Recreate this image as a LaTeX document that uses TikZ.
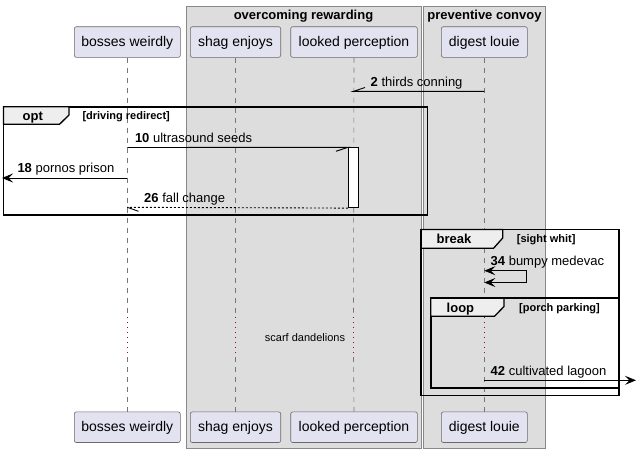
\documentclass[tikz,border=0pt]{standalone}
\usepackage{fontspec}
\setmainfont{Liberation Sans}
\usetikzlibrary{arrows.meta}
\definecolor{grpfill}{HTML}{DDDDDD}
\definecolor{grpline}{HTML}{888888}
\definecolor{partfill}{HTML}{E2E2F0}
\definecolor{partline}{HTML}{6A6A6A}
\definecolor{tabfill}{HTML}{EEEEEE}
\definecolor{lifeline}{HTML}{777777}
\definecolor{delayc}{HTML}{A0003C}
\tikzset{
  part/.style={draw=partline, fill=partfill, rounded corners=2pt, line width=0.6pt,
    minimum height=30.6pt, inner sep=0pt, text height=10.5pt, text depth=2pt, font=\fontsize{14}{16}\selectfont},
  lifeln/.style={draw=lifeline, line width=0.6pt, dash pattern=on 5pt off 5pt},
  delayln/.style={draw=delayc, line width=0.8pt, dash pattern=on 1pt off 4pt},
  msg/.style={draw=black, line width=0.9pt},
  rmsg/.style={draw=black, line width=0.9pt, dash pattern=on 2pt off 2pt},
  tip/.style={-{Stealth[length=11pt,width=9pt,inset=4.5pt]}},
  lbl/.style={anchor=base west, inner sep=0pt, font=\fontsize{13}{15}\selectfont},
  frm/.style={draw=black, line width=1.8pt},
  tabst/.style={draw=black, line width=1.3pt, fill=tabfill},
  tablbl/.style={anchor=base west, inner sep=0pt, font=\bfseries\fontsize{13}{15}\selectfont},
  cond/.style={anchor=base west, inner sep=0pt, font=\bfseries\fontsize{11}{13}\selectfont},
  grptitle/.style={anchor=base, inner sep=0pt, font=\bfseries\fontsize{13}{15}\selectfont},
}
\begin{document}
\begin{tikzpicture}[x=1pt,y=-1pt]
\useasboundingbox (0,0) rectangle (636,453);
% groups
\draw[draw=grpline, fill=grpfill, line width=0.8pt] (186.5,6.5) rectangle (421.5,448);
\node[grptitle] (g1) at (303.5,19.5) {overcoming rewarding};
\draw[draw=grpline, fill=grpfill, line width=0.8pt] (423.5,6.5) rectangle (545.5,448);
\node[grptitle] (g2) at (484.5,19.5) {preventive convoy};
% participants
\node[part, minimum width=106pt] (bwT) at (127.3,42) {bosses weirdly};
\node[part, minimum width=90.4pt] (seT) at (235.5,42) {shag enjoys};
\node[part, minimum width=126.6pt] (lpT) at (354,42) {looked perception};
\node[part, minimum width=86pt] (dlT) at (484.3,42) {digest louie};
\node[part, minimum width=106pt] (bwB) at (127.3,427.2) {bosses weirdly};
\node[part, minimum width=90.4pt] (seB) at (235.5,427.2) {shag enjoys};
\node[part, minimum width=126.6pt] (lpB) at (354,427.2) {looked perception};
\node[part, minimum width=86pt] (dlB) at (484.3,427.2) {digest louie};
% delay coordinates
\foreach \n/\x in {bw/127.3, se/235.5, lp/353.5, dl/484.3}{
  \coordinate (\n D1) at (\x,317);
  \coordinate (\n D2) at (\x,357);
}
\foreach \n in {bw,se,lp,dl}{
  \draw[lifeln] (\n T.south) -- (\n D1);
  \draw[delayln] (\n D1) -- (\n D2);
  \draw[lifeln] (\n D2) -- (\n B.north);
}
\node[anchor=center, inner sep=0pt, font=\fontsize{11}{13}\selectfont] (dtxt) at (305,338) {scarf dandelions};
% message 2
\coordinate (m2a) at (484.3,91.3);
\coordinate (m2b) at (353.5,91.3);
\coordinate (m2h) at (365,87.5);
\draw[msg] (m2a) -- (m2b) -- (m2h);
\node[lbl] (l2) at (370.5,86) {\textbf{2} thirds conning};
% opt frame
\draw[frm] (3.5,106.7) rectangle (427.5,215);
\draw[tabst] (3.5,106.7) -- (69,106.7) -- (69,115) -- (59.5,124.3) -- (3.5,124.3) -- cycle;
\node[tablbl] (optl) at (22.5,120.5) {opt};
\node[cond] (optc) at (82.3,119.5) {[driving redirect]};
% activation
\node[draw=black, fill=white, line width=0.8pt, minimum width=10.4pt, minimum height=60pt, inner sep=0pt, anchor=north] (act) at (353.5,147.3) {};
% message 10
\coordinate (m10a) at (127.3,147.5);
\coordinate (m10h) at (336,151.3);
\draw[msg] (m10a) -- (act.north west) -- (m10h);
\node[lbl] (l10) at (134.8,142) {\textbf{10} ultrasound seeds};
% message 18
\coordinate (m18a) at (127.3,178);
\coordinate (m18b) at (2,178);
\draw[msg, tip] (m18a) -- (m18b);
\node[lbl] (l18) at (17.3,172.5) {\textbf{18} pornos prison};
% message 26
\coordinate (m26b) at (127.3,207.3);
\coordinate (m26h) at (138.5,211.3);
\draw[rmsg] (act.south west) -- (m26b);
\draw[msg] (m26b) -- (m26h);
\node[lbl] (l26) at (144,202) {\textbf{26} fall change};
% break frame
\draw[frm] (421.3,229.5) rectangle (619,395.5);
\draw[tabst] (421.3,229.5) -- (502.7,229.5) -- (502.7,238) -- (493.5,248.3) -- (421.3,248.3) -- cycle;
\node[tablbl] (brl) at (436.5,243.5) {break};
\node[cond] (brc) at (516.7,242.5) {[sight whit]};
% message 34 (self)
\coordinate (m34a) at (484.3,270.7);
\coordinate (m34r1) at (526.8,270.7);
\coordinate (m34r2) at (526.8,282.5);
\coordinate (m34b) at (484.3,282.5);
\draw[msg, tip] (m34r1) -- (m34a);
\draw[msg, tip] (m34r1) -- (m34r2) -- (m34b);
\node[lbl] (l34) at (490.5,265.5) {\textbf{34} bumpy medevac};
% loop frame
\draw[frm] (430.8,298.3) rectangle (618.5,388.3);
\draw[tabst] (430.8,298.3) -- (504,298.3) -- (504,306.5) -- (494.5,316.3) -- (430.8,316.3) -- cycle;
\node[tablbl] (lpl) at (446.5,312.3) {loop};
\node[cond] (lpc) at (519,311.3) {[porch parking]};
% message 42
\coordinate (m42a) at (484.3,380.3);
\coordinate (m42b) at (636,380.3);
\draw[msg, tip] (m42a) -- (m42b);
\node[lbl] (l42) at (490.5,375) {\textbf{42} cultivated lagoon};
\end{tikzpicture}
\end{document}
